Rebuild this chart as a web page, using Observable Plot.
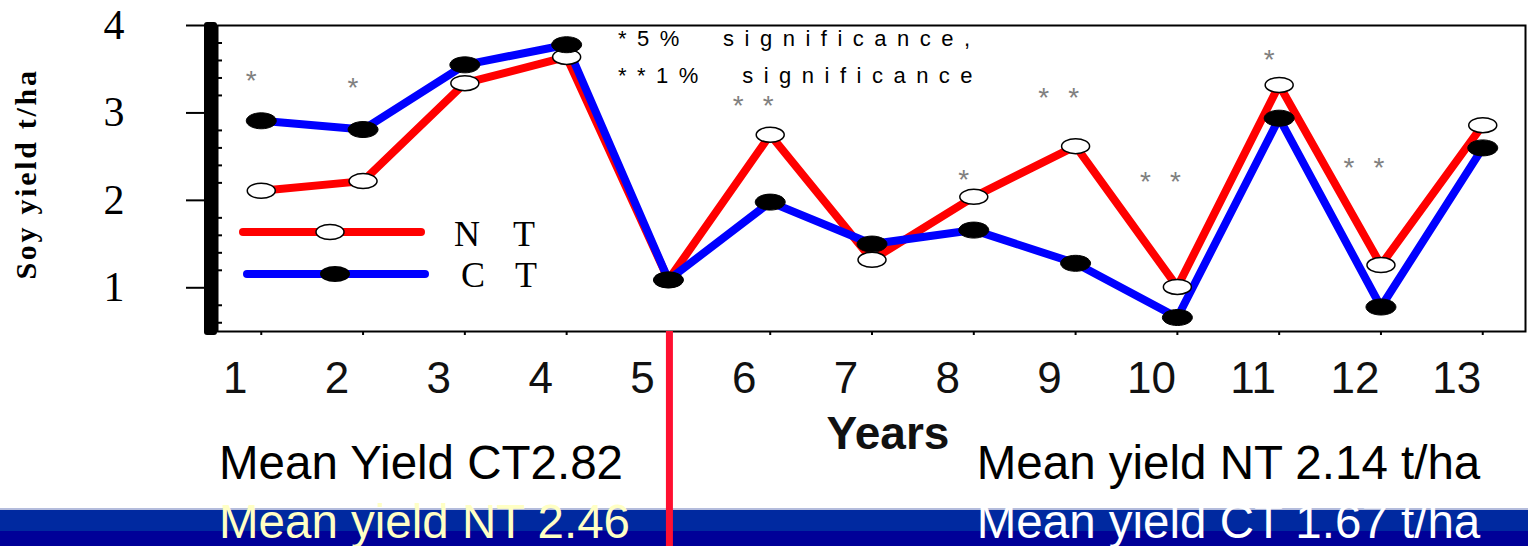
<!DOCTYPE html>
<html><head><meta charset="utf-8">
<script src="https://cdn.jsdelivr.net/npm/d3@7"></script>
<script src="https://cdn.jsdelivr.net/npm/@observablehq/plot@0.6"></script>
<style>html,body{margin:0;padding:0;background:#fff;} #chart svg{display:block;}</style>
</head><body><div id="chart"></div>
<script>
// ---- data ----
const years = [1, 2, 3, 4, 5, 6, 7, 8, 9, 10, 11, 12, 13];
const ntYield = [2.11, 2.22, 3.34, 3.64, 1.09, 2.75, 1.32, 2.04, 2.62, 1.01, 3.32, 1.26, 2.86];
const ctYield = [2.91, 2.81, 3.55, 3.78, 1.09, 1.98, 1.50, 1.66, 1.28, 0.66, 2.94, 0.78, 2.60];
const significance = ["*", "*", "", "", "", "**", "", "*", "**", "**", "*", "**", ""];
const sigHeight = [3.45, 3.36, null, null, null, 3.16, null, 2.31, 3.25, 2.29, 3.68, 2.45, null];
const yTicks = [1, 2, 3, 4];
const yMinorTicks = [0.6, 0.8, 1.2, 1.4, 1.6, 1.8, 2.2, 2.4, 2.6, 2.8, 3.2, 3.4, 3.6, 3.8];
const xTicks = years;
const seriesNames = ["N T", "C T"];
const periodSplitYear = 5;
const summaryText = {
  p1a: "Mean Yield CT2.82", p1b: "Mean yield NT 2.46",
  p2a: "Mean yield NT 2.14 t/ha", p2b: "Mean yield CT 1.67 t/ha"
};
const noteLines = ["*5%  significance,", "**1%  significance"];

// ---- tables ----
const nt = years.map((y, i) => ({year: y, v: ntYield[i]}));
const ct = years.map((y, i) => ({year: y, v: ctYield[i]}));
const sig = years.map((y, i) => ({year: y, h: sigHeight[i], s: significance[i]}));
const single = sig.filter(d => d.s === "*");
const double = sig.filter(d => d.s === "**");

function ellipse(rx, ry) {
  const k = 0.5522848, kx = rx * k, ky = ry * k;
  return {draw(c) {
    c.moveTo(rx, 0);
    c.bezierCurveTo(rx, ky, kx, ry, 0, ry);
    c.bezierCurveTo(-kx, ry, -rx, ky, -rx, 0);
    c.bezierCurveTo(-rx, -ky, -kx, -ry, 0, -ry);
    c.bezierCurveTo(kx, -ry, rx, -ky, rx, 0);
    c.closePath();
  }};
}
const ellNT = ellipse(14, 7.5), ellCT = ellipse(15, 8);

const W = 1528, H = 546, mL = 217, mR = 3, mT = 25, mB = 215;
const SANS = "Liberation Sans, Arial, sans-serif";
const SERIF = "Liberation Serif, Times New Roman, serif";

const plot = Plot.plot({
  width: W, height: H,
  marginLeft: mL, marginRight: mR, marginTop: mT, marginBottom: mB,
  style: {background: "white", fontFamily: SANS, overflow: "visible"},
  x: {type: "linear", domain: [0.57, 13.42], axis: null},
  y: {domain: [0.5, 4], axis: null},
  marks: [
    Plot.frame({stroke: "black", strokeWidth: 2}),
    Plot.tickY(yMinorTicks, {y: d => d, stroke: "black", strokeWidth: 2, insetRight: W - mL - mR - 5}),
    Plot.axisY(yTicks, {anchor: "left", tickSize: 31, tickPadding: 62, strokeWidth: 2, tickFormat: d3.format("d"),
      fontSize: 42, fontFamily: SERIF, label: null, color: "black"}),
    Plot.axisX(xTicks, {anchor: "bottom", tickSize: 4, strokeWidth: 2, tickFormat: () => "", label: null, color: "black"}),
    Plot.axisX(xTicks, {anchor: "bottom", tickSize: 0, tickPadding: 30, dx: -26, fontSize: 44, tickFormat: d3.format("d"),
      fontFamily: SANS, label: null, color: "#111"}),
    Plot.lineY(nt, {x: "year", y: "v", stroke: "#ff0000", strokeWidth: 8}),
    Plot.lineY(ct, {x: "year", y: "v", stroke: "#0000ff", strokeWidth: 8}),
    Plot.dot(nt, {x: "year", y: "v", symbol: ellNT, fill: "white", stroke: "black", strokeWidth: 1.5}),
    Plot.dot(ct, {x: "year", y: "v", symbol: ellCT, fill: "black", stroke: "black", strokeWidth: 1}),
    Plot.text(single, {x: "year", y: "h", text: () => "*", dx: -10, dy: 7, fontSize: 28, fill: "#808080"}),
    Plot.text(double, {x: "year", y: "h", text: () => "*", dx: -32, dy: 7, fontSize: 28, fill: "#808080"}),
    Plot.text(double, {x: "year", y: "h", text: () => "*", dx: -2, dy: 7, fontSize: 28, fill: "#808080"})
  ]
});
document.getElementById("chart").appendChild(plot);

// ---- decorations on the same svg ----
const svg = d3.select(plot);
const xs = plot.scale("x"), ys = plot.scale("y");
const [yBot, yTop] = ys.range;
const xLeft = xs.range[0];

function txt(g, x, y, s, {anchor = "start", family = SANS, size = 47.5, weight = "normal", fill = "black", ls = null, pre = false} = {}) {
  const t = g.append("text").attr("x", x).attr("y", y).attr("text-anchor", anchor)
    .attr("font-family", family).attr("font-size", size).attr("font-weight", weight).attr("fill", fill).text(s);
  if (ls != null) t.style("letter-spacing", ls + "px");
  if (pre) t.style("white-space", "pre");
  return t;
}

// thick left axis bar
svg.append("rect").attr("x", xLeft - 13).attr("y", yTop - 3).attr("width", 13)
  .attr("height", yBot - yTop + 7).attr("rx", 3).attr("fill", "black");

// y-axis title
svg.append("text").attr("transform", "translate(36,174) rotate(-90)")
  .attr("text-anchor", "middle").attr("font-family", SERIF).attr("font-weight", "bold")
  .attr("font-size", 30).style("letter-spacing", "2.7px").attr("fill", "black").text("Soy yield t/ha");

// x title
txt(svg, 888, 449, "Years", {anchor: "middle", weight: "bold", size: 46, fill: "#111"});

// legend
const leg = svg.append("g");
leg.append("line").attr("x1", 243).attr("x2", 421).attr("y1", 232).attr("y2", 232)
  .attr("stroke", "#ff0000").attr("stroke-width", 8).attr("stroke-linecap", "round");
leg.append("ellipse").attr("cx", 330).attr("cy", 232).attr("rx", 14).attr("ry", 7.5)
  .attr("fill", "white").attr("stroke", "black").attr("stroke-width", 1.5);
leg.append("line").attr("x1", 247).attr("x2", 425).attr("y1", 274).attr("y2", 274)
  .attr("stroke", "#0000ff").attr("stroke-width", 8).attr("stroke-linecap", "round");
leg.append("ellipse").attr("cx", 335).attr("cy", 274).attr("rx", 15).attr("ry", 8).attr("fill", "black");
txt(leg, 454, 246, seriesNames[0].replace(/ /g, ""), {family: SERIF, size: 36, ls: 33});
txt(leg, 461, 287, seriesNames[1].replace(/ /g, ""), {family: SERIF, size: 36, ls: 30});

// significance note
noteLines.forEach((t, i) => txt(svg, 618, 46 + i * 37, t, {size: 22, ls: 10.5, pre: true}));

// summary texts
const xEnd = xs.apply(years[years.length - 1]);
txt(svg, xLeft + 2, 479, summaryText.p1a);
txt(svg, xEnd - 2, 479, summaryText.p2a, {anchor: "end"});

// bottom band
svg.append("rect").attr("x", 0).attr("y", 508).attr("width", W).attr("height", 2).attr("fill", "#b4bcdc");
svg.append("rect").attr("x", 0).attr("y", 510).attr("width", W).attr("height", 21).attr("fill", "#0029a0");
svg.append("rect").attr("x", 0).attr("y", 531).attr("width", W).attr("height", 15).attr("fill", "#000098");
txt(svg, xLeft + 2, 538, summaryText.p1b, {fill: "#ffffc4"});
txt(svg, xEnd - 2, 538, summaryText.p2b, {anchor: "end", fill: "white"});

// period separator
const xs5 = xs.apply(periodSplitYear) + 1.5;
svg.append("line").attr("x1", xs5).attr("x2", xs5).attr("y1", yBot).attr("y2", H)
  .attr("stroke", "#ff1030").attr("stroke-width", 7);
</script></body></html>
